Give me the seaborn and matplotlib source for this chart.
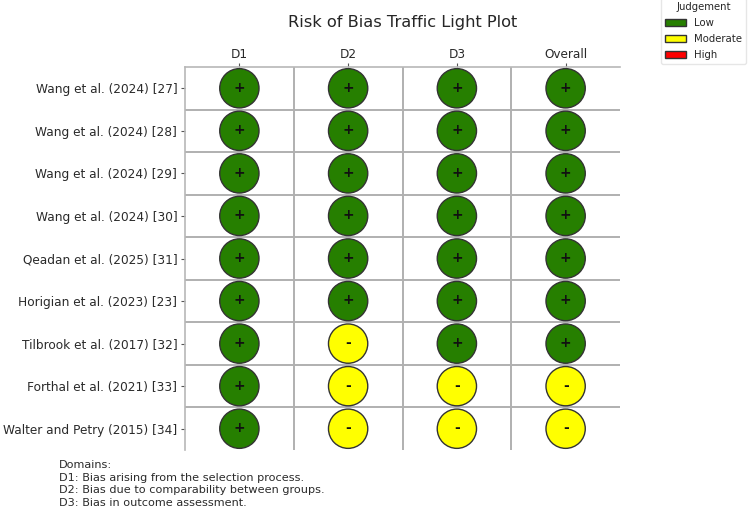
import matplotlib
matplotlib.use("Agg")
import matplotlib.pyplot as plt
import pandas as pd
import seaborn as sns
from matplotlib.patches import Patch

studies = ["Wang et al. (2024) [27]", "Wang et al. (2024) [28]", "Wang et al. (2024) [29]",
           "Wang et al. (2024) [30]", "Qeadan et al. (2025) [31]", "Horigian et al. (2023) [23]",
           "Tilbrook et al. (2017) [32]", "Forthal et al. (2021) [33]", "Walter and Petry (2015) [34]"]
domains = ["D1", "D2", "D3", "Overall"]
d1 = ["Low"] * 9
d2 = ["Low"] * 6 + ["Moderate"] * 3
d3 = ["Low"] * 7 + ["Moderate"] * 2
overall = ["Low"] * 7 + ["Moderate"] * 2
levels = ["Low", "Moderate", "High"]
level_colors = ["#267f00", "#ffff00", "#ff0000"]
symbols = {"Low": "+", "Moderate": "-", "High": "x"}
notes = ("Domains:\nD1: Bias arising from the selection process.\n"
         "D2: Bias due to comparability between groups.\nD3: Bias in outcome assessment.")

df = pd.DataFrame({"Study": studies, "D1": d1, "D2": d2, "D3": d3, "Overall": overall})
long = df.melt(id_vars="Study", var_name="Domain", value_name="Judgement")

sns.set_style("white")
fig = plt.figure(figsize=(7.5, 5.12), dpi=100)
ax = fig.add_axes([185 / 750, 1 - 450 / 512, 435 / 750, 383 / 512])
long["x"] = long["Domain"].map({d: i for i, d in enumerate(domains)})
long["y"] = long["Study"].map({s: i for i, s in enumerate(studies)})
sns.scatterplot(data=long, x="x", y="y", hue="Judgement", hue_order=levels,
                palette=dict(zip(levels, level_colors)), s=800, edgecolor="#333333",
                linewidth=1.0, legend=False, ax=ax, zorder=3, clip_on=False)
for _, r in long.iterrows():
    ax.text(r["x"], r["y"] - 0.015, symbols[r["Judgement"]], ha="center", va="center",
            fontsize=10, fontweight="bold", color="#111111", zorder=4)

ax.set_xlim(-0.5, 3.5)
ax.set_ylim(8.5, -0.5)
ax.set_xticks(range(4), domains)
ax.set_yticks(range(9), studies)
ax.xaxis.tick_top()
ax.set_xlabel("")
ax.set_ylabel("")
ax.tick_params(axis="y", length=3, width=0.8, color="#555555", labelsize=8.7,
               labelcolor="#2a2a2a", left=True, pad=2.5)
ax.tick_params(axis="x", length=3, width=0.8, color="#555555", labelsize=8.7,
               labelcolor="#2a2a2a", top=True, bottom=False, pad=1.5)
for v in [0.5, 1.5, 2.5]:
    ax.axvline(v, color="#b0b0b0", lw=1.4, zorder=1)
for h in [0.5 + i for i in range(8)]:
    ax.axhline(h, color="#b0b0b0", lw=1.4, zorder=1)
for name, sp in ax.spines.items():
    sp.set_visible(name in ("top", "left"))
    sp.set_color("#b8b8b8")
    sp.set_linewidth(1.2)

fig.text(402.5 / 750, 1 - 23 / 512, "Risk of Bias Traffic Light Plot", ha="center", va="center",
         fontsize=11.7, color="#262626")
fig.text(59 / 750, 1 - 484 / 512, notes, ha="left", va="center", fontsize=8.13,
         color="#2a2a2a", linespacing=1.36)
handles = [Patch(facecolor=c, edgecolor="#333333", label=l) for l, c in zip(levels, level_colors)]
fig.legend(handles=handles, title="Judgement", loc="upper right", bbox_to_anchor=(751 / 750, 1 + 7 / 512),
           fontsize=7.3, title_fontsize=7.3, frameon=True, framealpha=0.8, edgecolor="#e0e0e0",
           borderpad=0.4, labelspacing=0.58, handlelength=2.0, handletextpad=0.8)
fig.savefig("out.png", dpi=100)
